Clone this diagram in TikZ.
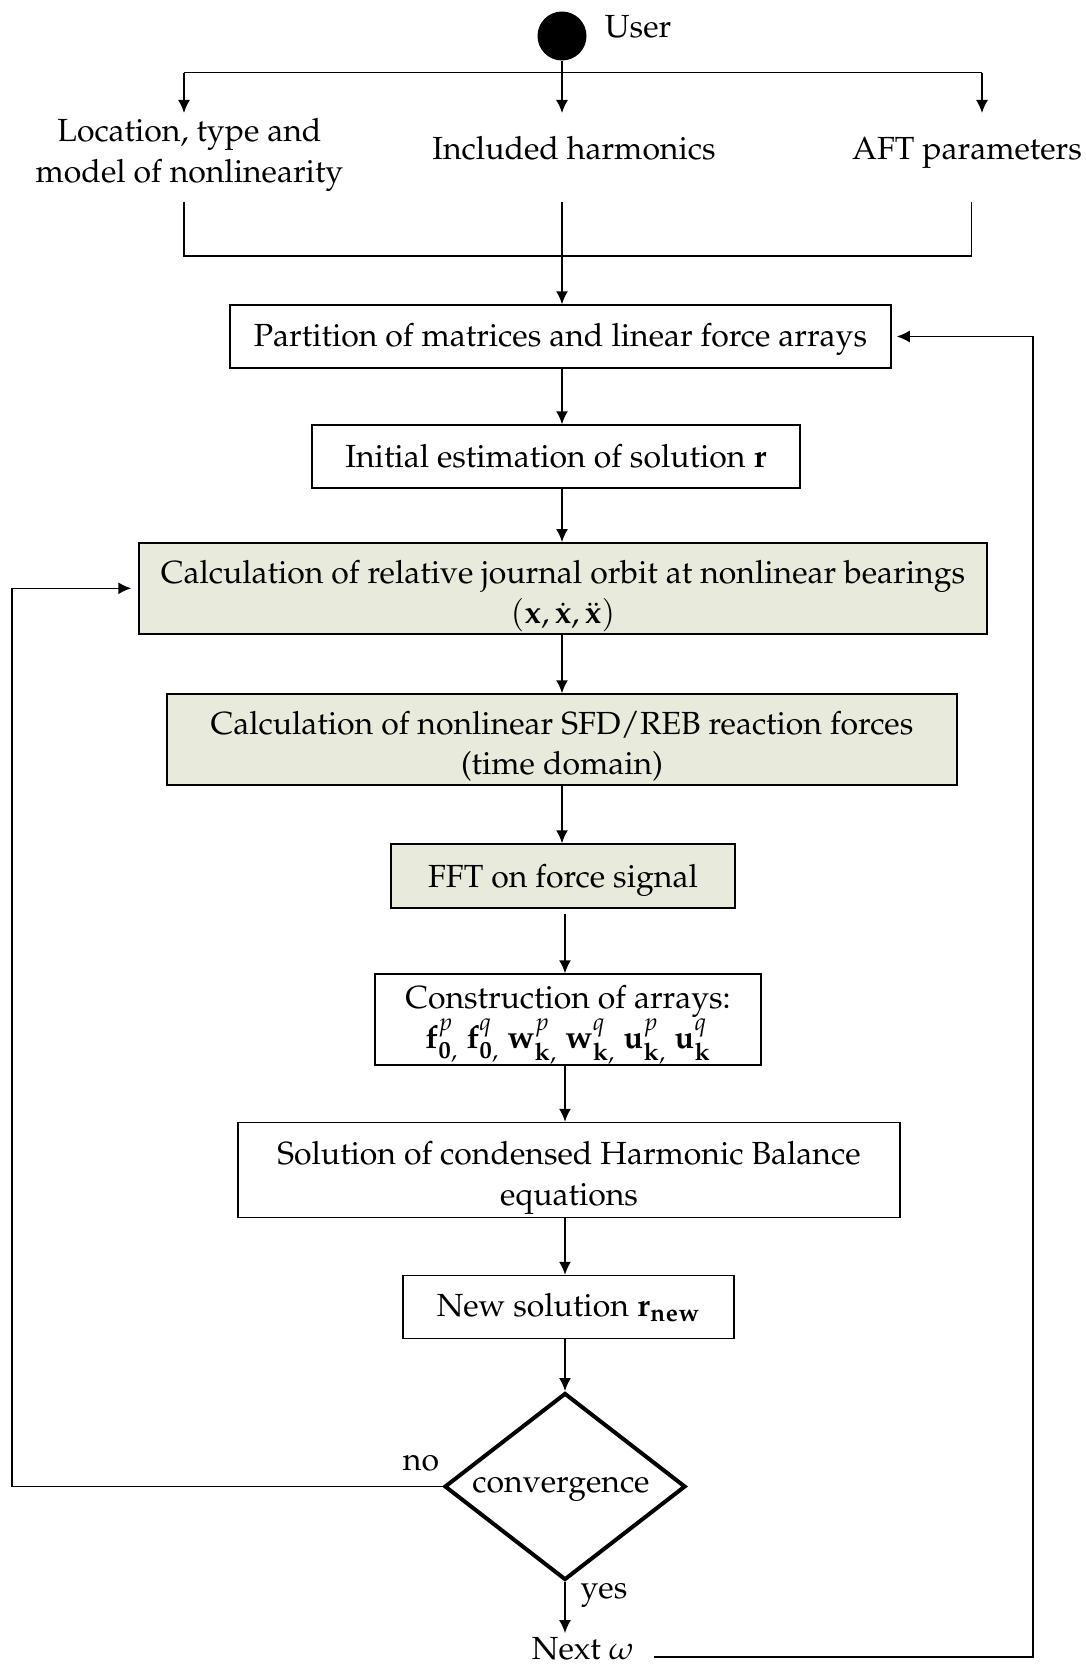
\documentclass[tikz,border=0pt]{standalone}
\usepackage[T1]{fontenc}
\usepackage{mathpazo}
\usetikzlibrary{arrows.meta,shapes.geometric}
\definecolor{boxgreen}{HTML}{E8EBDB}
\begin{document}
\begin{tikzpicture}[x=0.5pt,y=-0.5pt,
  font=\fontsize{16}{20.2}\selectfont,
  line width=0.75pt,
  arr/.style={-{Latex[length=6.5pt,width=6pt]}},
  stepbox/.style={draw, line width=0.75pt, inner sep=0pt},
  greenbox/.style={stepbox, fill=boxgreen},
  lbl/.style={inner sep=0pt, align=center}
]
\useasboundingbox (0,0) rectangle (1086,1664);

% start
\node[circle, fill=black, minimum size=24.5pt, inner sep=0pt] (user) at (562,36) {};
\node[lbl, anchor=base] (userlbl) at (638,38) {User};

\coordinate (jl) at (184,72.7);
\coordinate (jm) at (562,72.7);
\coordinate (jr) at (982,72.7);
\coordinate (tl) at (184,113);
\coordinate (tm) at (562,113);
\coordinate (tr) at (982,113);
\draw (jl) -- (jr);
\draw[arr] (user.south) -- (tm);
\draw[arr] (jl) -- (tl);
\draw[arr] (jr) -- (tr);

\node[lbl] (loc) at (189.5,155) {Location, type and\\model of nonlinearity};
\node[lbl, anchor=base] (harm) at (574,160) {Included harmonics};
\node[lbl, anchor=base] (aft) at (967,160) {AFT parameters};

\coordinate (bl) at (184,201.7);
\coordinate (bm) at (562,201.7);
\coordinate (br) at (971.5,201.7);
\coordinate (cl) at (184,256);
\coordinate (cm) at (562,256);
\coordinate (cr) at (971.5,256);
\draw (bl) -- (cl) -- (cr) -- (br);
\draw (bm) -- (cm);

% boxes
\node[stepbox, minimum width=330.5pt, minimum height=31.5pt] (partition) at (560.5,336.5) {};
\node[lbl] (partitiontxt) at ([yshift=-1.5pt]partition.center) {Partition of matrices and linear force arrays};
\node[stepbox, minimum width=244pt, minimum height=31.5pt] (initial) at (556,456.5) {};
\node[lbl] (initialtxt) at (initial.center) {Initial estimation of solution $\mathbf{r}$};
\node[greenbox, minimum width=424pt, minimum height=45.5pt] (orbit) at (563,588.3) {};
\node[lbl] (orbittxt) at ([yshift=-4pt]orbit.center) {Calculation of relative journal orbit at nonlinear bearings\\$(\mathbf{x},\dot{\mathbf{x}},\ddot{\mathbf{x}})$};
\node[greenbox, minimum width=395pt, minimum height=45.5pt] (forces) at (562,739.5) {};
\node[lbl] (forcestxt) at ([yshift=-3.5pt]forces.center) {Calculation of nonlinear SFD/REB reaction forces\\(time domain)};
\node[greenbox, minimum width=172pt, minimum height=32pt] (fft) at (563,876) {};
\node[lbl] (ffttxt) at ([yshift=-2pt]fft.center) {FFT on force signal};
\node[stepbox, minimum width=193pt, minimum height=45.5pt] (constr) at (568,1019.5) {};
\node[lbl] (constrtxt) at ([yshift=-2.5pt]constr.center) {Construction of arrays:\\$\mathbf{f}^{p}_{\mathbf{0},}\ \mathbf{f}^{q}_{\mathbf{0},}\ \mathbf{w}^{p}_{\mathbf{k},}\ \mathbf{w}^{q}_{\mathbf{k},}\ \mathbf{u}^{p}_{\mathbf{k},}\ \mathbf{u}^{q}_{\mathbf{k}}$};
\node[stepbox, minimum width=331pt, minimum height=47.5pt] (solution) at (569,1170) {};
\node[lbl] (solutiontxt) at ([yshift=-4pt]solution.center) {Solution of condensed Harmonic Balance\\equations};
\node[stepbox, minimum width=165.5pt, minimum height=31.5pt] (newsol) at (568.5,1307) {};
\node[lbl] (newsoltxt) at ([yshift=-0.5pt]newsol.center) {New solution $\mathbf{r}_{\mathbf{new}}$};

\node[diamond, draw, line width=2pt, minimum width=120.5pt, minimum height=93.5pt, inner sep=0pt] (conv) at (565,1486.5) {};
\node[lbl] (convtxt) at (561,1489) {convergence};
\node[lbl, anchor=base] (nolbl) at (421,1470) {no};
\node[lbl, anchor=base] (yeslbl) at (604,1598) {yes};
\node[lbl, anchor=base] (nextw) at (583,1659) {Next $\omega$};

% main flow
\coordinate (ax) at (562,0);
\coordinate (bx) at (565,0);
\draw[arr] (cm) -- (cm |- partition.north);
\draw[arr] (partition.south -| ax) -- (initial.north -| ax);
\draw[arr] (initial.south -| ax) -- (orbit.north -| ax);
\draw[arr] (orbit.south -| ax) -- (forces.north -| ax);
\draw[arr] (forces.south -| ax) -- (fft.north -| ax);
\draw[arr, shorten <=2.5pt] (fft.south -| bx) -- (constr.north -| bx);
\draw[arr] (constr.south -| bx) -- (solution.north -| bx);
\draw[arr] (solution.south -| bx) -- (newsol.north -| bx);
\draw[arr] (newsol.south -| bx) -- (conv.north);
\draw[arr, shorten >=1.5pt] (conv.south) -- (conv.south |- nextw.north);

% loops
\coordinate (ll) at (12,0);
\draw[arr, shorten >=3.5pt] (conv.west) -- (conv.west -| ll) -- (ll |- orbit.west) -- (orbit.west);
\coordinate (rs) at (654,1657);
\coordinate (rr) at (1033,0);
\draw[arr, shorten >=2.5pt] (rs) -- (rs -| rr) -- (rr |- partition.east) -- (partition.east);
\end{tikzpicture}
\end{document}
